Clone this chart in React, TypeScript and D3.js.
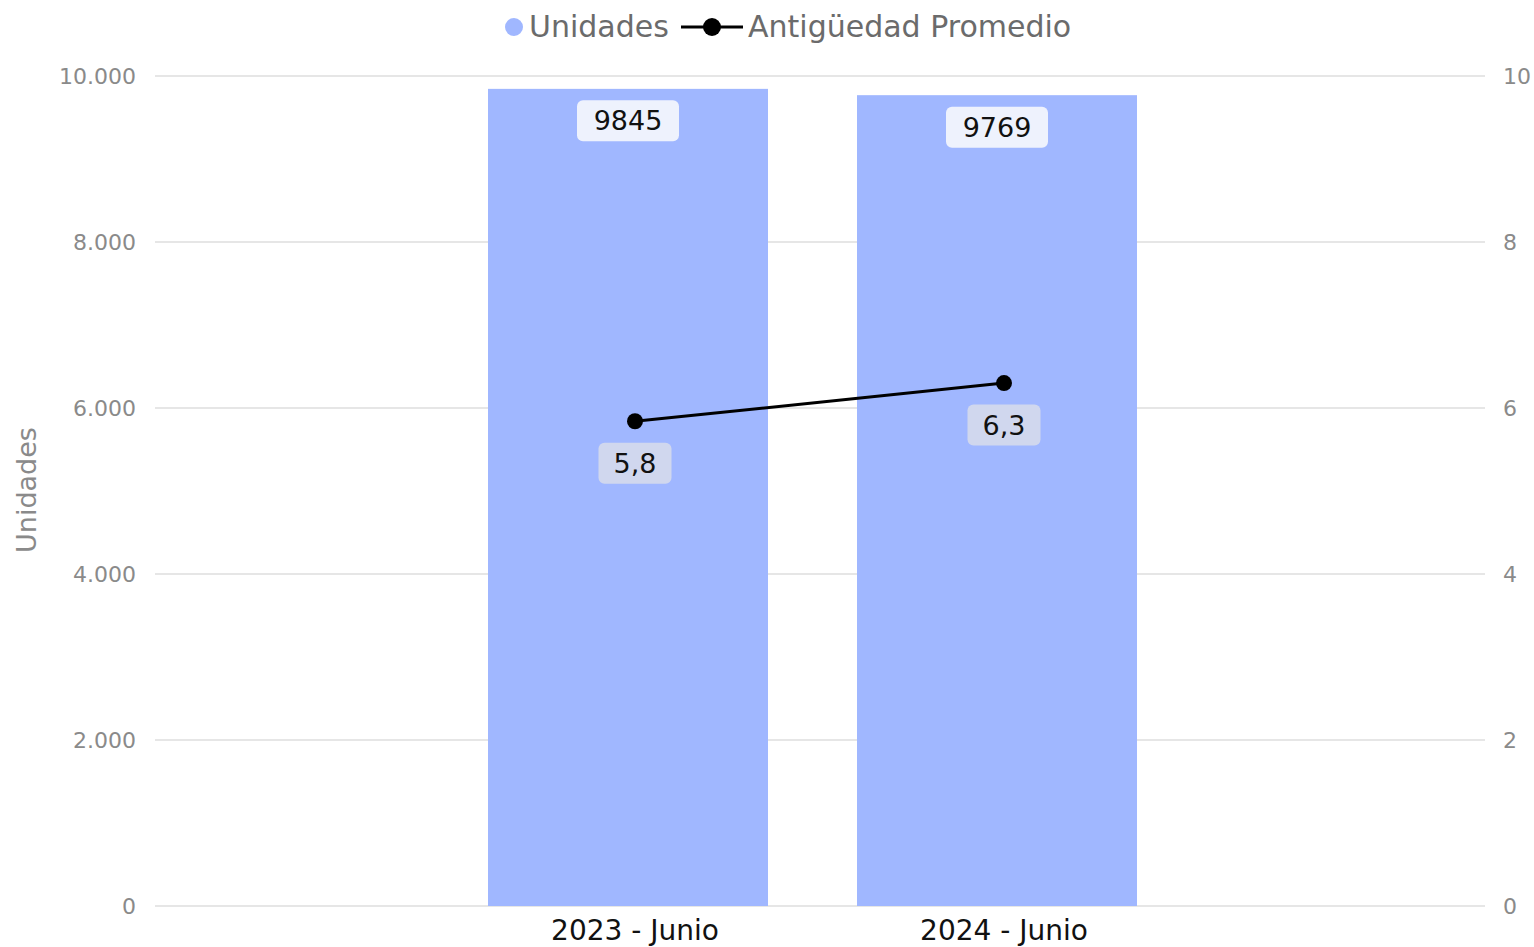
import React from "react";
import * as d3 from "d3";

const categories = ["2023 - Junio", "2024 - Junio"];
const unidades = [9845, 9769];
const antiguedad = [5.84, 6.3];
const leftTicks = [0, 2000, 4000, 6000, 8000, 10000];
const rightTicks = [0, 2, 4, 6, 8, 10];

const W = 1534;
const H = 947;
const FONT = "'DejaVu Sans', 'Open Sans', sans-serif";
const BAR_COLOR = "#a0b7ff";

export default function App() {
  const plotLeft = 155;
  const plotRight = 1485;
  const yTop = 76;
  const yBottom = 906;

  const x = d3.scalePoint<string>().domain(categories).range([635, 1004]);
  const yL = d3.scaleLinear().domain([0, 10000]).range([yBottom, yTop]);
  const yR = d3.scaleLinear().domain([0, 10]).range([yBottom, yTop]);
  const barW = 280;
  const barOffset = -7;
  const fmtL = (v: number) => d3.format(",")(v).replace(/,/g, ".");
  const fmtR = (v: number) => v.toFixed(1).replace(".", ",");

  const line = d3
    .line<number>()
    .x((_, i) => x(categories[i])!)
    .y((d) => yR(d));

  return (
    <svg
      width={W}
      height={H}
      style={{ position: "absolute", left: 0, top: 0, fontFamily: FONT }}
    >
      {leftTicks.map((t) => (
        <line
          key={"g" + t}
          x1={plotLeft}
          x2={plotRight}
          y1={yL(t)}
          y2={yL(t)}
          stroke="#e6e6e6"
          strokeWidth={2}
        />
      ))}
      {leftTicks.map((t) => (
        <text
          key={"l" + t}
          x={136}
          y={yL(t)}
          dy="0.35em"
          textAnchor="end"
          fontSize={22}
          fill="#8a8a8a"
        >
          {fmtL(t)}
        </text>
      ))}
      {rightTicks.map((t) => (
        <text
          key={"r" + t}
          x={1503}
          y={yR(t)}
          dy="0.35em"
          textAnchor="start"
          fontSize={22}
          fill="#8a8a8a"
        >
          {t}
        </text>
      ))}
      <text
        transform={`translate(36,490) rotate(-90)`}
        textAnchor="middle"
        fontSize={27}
        fill="#8a8a8a"
      >
        Unidades
      </text>
      {categories.map((c, i) => (
        <rect
          key={"b" + c}
          x={x(c)! + barOffset - barW / 2}
          y={yL(unidades[i])}
          width={barW}
          height={yBottom - yL(unidades[i])}
          fill={BAR_COLOR}
        />
      ))}
      {categories.map((c, i) => {
        const cx = x(c)! + barOffset;
        const cy = yL(unidades[i]) + 32;
        return (
          <g key={"bl" + c}>
            <rect
              x={cx - 51}
              y={cy - 20.5}
              width={102}
              height={41}
              rx={6}
              fill="#eef2fd"
            />
            <text
              x={cx}
              y={cy}
              dy="0.35em"
              textAnchor="middle"
              fontSize={27}
              fill="#111"
            >
              {unidades[i]}
            </text>
          </g>
        );
      })}
      <path d={line(antiguedad) || ""} fill="none" stroke="#000" strokeWidth={3} />
      {categories.map((c, i) => (
        <circle key={"p" + c} cx={x(c)} cy={yR(antiguedad[i])} r={8} fill="#000" />
      ))}
      {categories.map((c, i) => {
        const cx = x(c)!;
        const cy = yR(antiguedad[i]) + 42;
        return (
          <g key={"ll" + c}>
            <rect
              x={cx - 36.5}
              y={cy - 20.5}
              width={73}
              height={41}
              rx={6}
              fill="#d0d7ee"
            />
            <text
              x={cx}
              y={cy}
              dy="0.35em"
              textAnchor="middle"
              fontSize={27}
              fill="#111"
            >
              {fmtR(antiguedad[i])}
            </text>
          </g>
        );
      })}
      {categories.map((c) => (
        <text
          key={"x" + c}
          x={x(c)}
          y={940}
          textAnchor="middle"
          fontSize={28}
          fill="#111"
        >
          {c}
        </text>
      ))}
      <circle cx={514} cy={27} r={9} fill={BAR_COLOR} />
      <text x={529} y={26} dy="0.35em" fontSize={30} fill="#6b6b6b">
        Unidades
      </text>
      <line x1={681} x2={743} y1={27} y2={27} stroke="#000" strokeWidth={3} />
      <circle cx={712} cy={27} r={9} fill="#000" />
      <text x={748} y={26} dy="0.35em" fontSize={30} fill="#6b6b6b">
        Antigüedad Promedio
      </text>
    </svg>
  );
}
